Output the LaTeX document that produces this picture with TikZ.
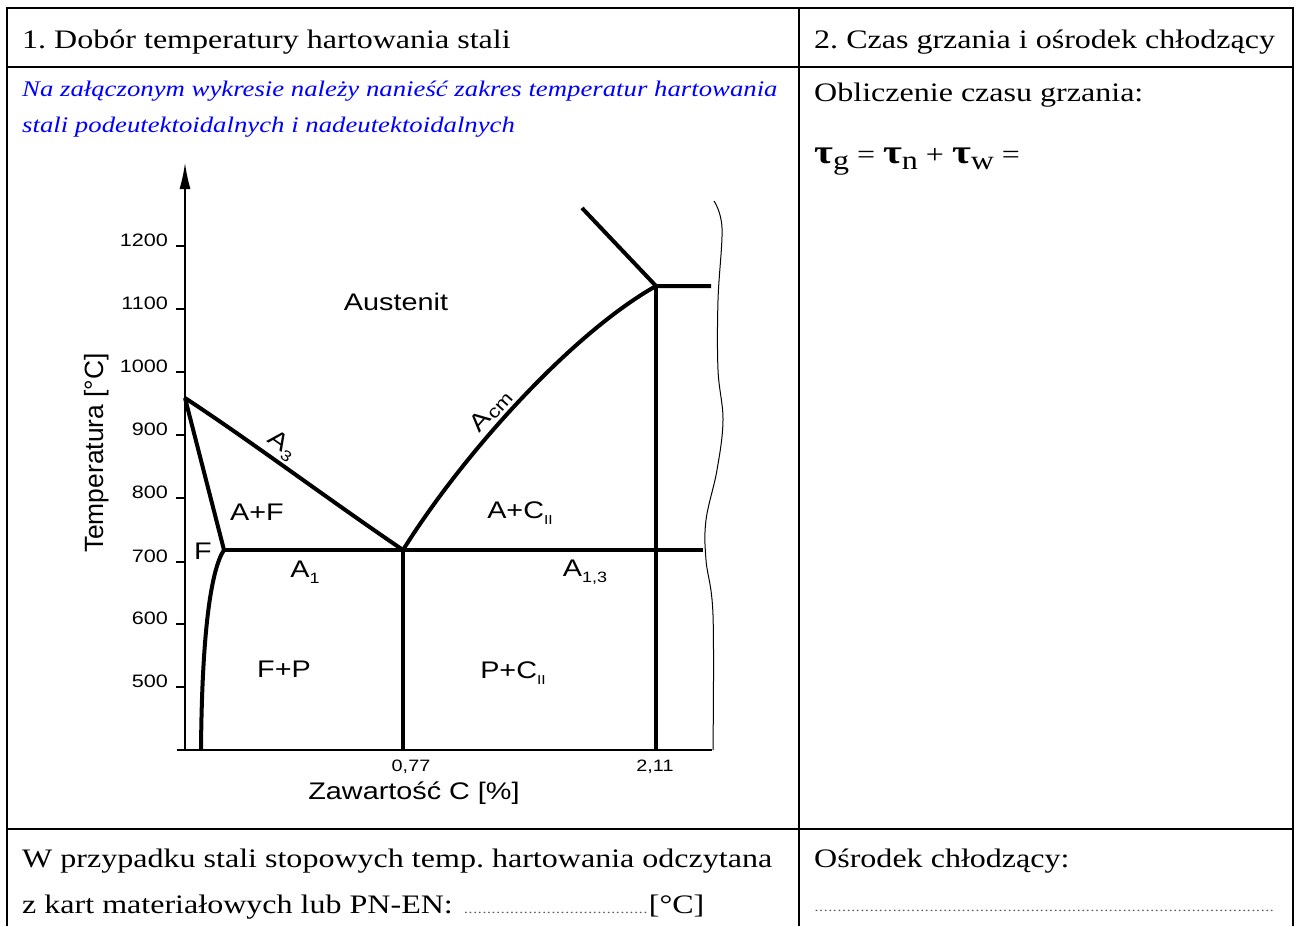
\documentclass[tikz,border=0pt]{standalone}
\usepackage{fontspec}
\setmainfont{Liberation Serif}[FakeStretch=1.2]
\newfontfamily\sansS{Liberation Sans}[FakeStretch=1.2]
\newfontfamily\sansN{Liberation Sans}
\usetikzlibrary{arrows.meta}
\frenchspacing
\newcommand\dotleader[1]{{\color{black!65}\fontsize{13}{13}\selectfont\leaders\hbox to 4.6pt{\hss.\hss}\hskip #1\relax}}
\newcommand\subII{\raisebox{-0.22em}{\fontsize{13}{13}\selectfont II}}
\newcommand\subsm[1]{\raisebox{-0.25em}{\fontsize{15}{15}\selectfont #1}}
\newcommand\tauB{{\fontsize{34}{34}\selectfont\bfseries τ}}
\newcommand\tsub[1]{\raisebox{-6pt}{#1}}
\begin{document}
\begin{tikzpicture}[x=1pt,y=-1pt,
  frame/.style={line width=2pt},
  phase/.style={line width=4pt, line join=round},
  axisline/.style={line width=1.5pt},
  tickmark/.style={line width=1.2pt},
  wavy/.style={line width=1pt},
  hdr/.style={anchor=base west, inner sep=0pt, font=\fontsize{26.7}{32}\selectfont},
  note/.style={anchor=base west, inner sep=0pt, text=blue, font=\itshape\fontsize{22.3}{27}\selectfont},
  lbl/.style={inner sep=0pt, font=\sansS\fontsize{24}{24}\selectfont},
  num/.style={inner sep=0pt, anchor=base east, font=\sansS\fontsize{18}{18}\selectfont},
  xnum/.style={inner sep=0pt, font=\sansS\fontsize{16.5}{16}\selectfont}
]
\useasboundingbox (0,0) rectangle (1300,926);
% table frame
\draw[frame] (7,926) -- (7,8) -- (1293,8) -- (1293,926);
\draw[frame] (7,67) -- (1293,67);
\draw[frame] (7,829) -- (1293,829);
\draw[frame] (799,8) -- (799,926);
% texts
\node[hdr] (h1) at (22,48) {1. Dobór temperatury hartowania stali};
\node[hdr] (h2) at (814,48) {2. Czas grzania i ośrodek chłodzący};
\node[note] (n1) at (22,96) {Na załączonym wykresie należy nanieść zakres temperatur hartowania};
\node[note] (n2) at (22,132) {stali podeutektoidalnych i nadeutektoidalnych};
\node[hdr] (ob) at (814,101) {Obliczenie czasu grzania:};
\node[hdr] (tau) at (814,163) {\tauB\tsub{g} = \tauB\tsub{n} + \tauB\tsub{w} =};
\node[hdr] (w1) at (22,867) {W przypadku stali stopowych temp. hartowania odczytana};
\node[hdr] (w2) at (22,913) {z kart materiałowych lub PN-EN: \dotleader{188pt}[°C]};
\node[hdr] (os) at (814,867) {Ośrodek chłodzący:};
\node[hdr] (dl) at (814,911) {\dotleader{462pt}};
% axes
\coordinate (O) at (185,750);
\coordinate (Ytop) at (185,163);
\coordinate (Xl) at (177,750);
\coordinate (Xr) at (712,750);
\draw[axisline] (Xl) -- (Xr);
\draw[axisline, -{Latex[length=26pt,width=11pt]}] (O) -- (Ytop);
\foreach \t/\y in {1200/246,1100/309,1000/372,900/435,800/498,700/562,600/624,500/687} {
  \coordinate (t\t) at (185,\y);
  \draw[tickmark] (t\t) -- ++(-9,0);
  \node[num] (l\t) at (168,\y) {\t};
}
% phase lines
\coordinate (G) at (185,398);
\coordinate (P) at (224,550);
\coordinate (S) at (403,550);
\coordinate (E) at (656,286);
\coordinate (K) at (703,550);
\coordinate (Ec) at (711,286);
\coordinate (L) at (582,208);
\coordinate (Sb) at (403,750);
\coordinate (Eb) at (656,750);
\coordinate (Qb) at (201,750);
\draw[phase] (G) -- (P) .. controls (212,568) and (202,625) .. (Qb);
\draw[phase] (G) .. controls (252,442) and (325,497) .. (S)
  node[lbl, pos=0.42, sloped, above, outer sep=4pt] (a3) {A\kern1pt\subsm{3}};
\draw[phase] (P) -- (K);
\draw[phase] (S) -- (Sb);
\draw[phase] (S) .. controls (463,454) and (571,334) .. (E)
  node[lbl, pos=0.43, sloped, above, outer sep=5pt] (acm) {A\kern1pt\raisebox{-0.12em}{\fontsize{18}{18}\selectfont cm}};
\draw[phase] (L) -- (E) -- (Ec);
\draw[phase] (E) -- (Eb);
% break line
\draw[wavy] plot[smooth, tension=0.6] coordinates {(714,201) (722,228) (718,300) (718,370) (723,420) (717,470) (706,520) (706,560) (713,615) (713,750)};
% labels
\node[lbl] (aus) at (396,302) {Austenit};
\node[lbl] (af) at (257,512) {A+F};
\node[lbl] (f) at (203,551) {F};
\node[lbl] (a1) at (305,572) {A\subsm{1}};
\node[lbl] (ac) at (520,513) {A+C\subII};
\node[lbl] (a13) at (585,572) {A\subsm{1,3}};
\node[lbl] (fp) at (284,669) {F+P};
\node[lbl] (pc) at (513,673) {P+C\subII};
\node[xnum] (x077) at (411,767) {0,77};
\node[xnum] (x211) at (655,767) {2,11};
\node[lbl] (xl) at (414,793) {Zawartość C [\%]};
\node[inner sep=0pt, rotate=90, font=\sansN\fontsize{26.4}{26}\selectfont] (yl) at (97,453) {Temperatura [°C]};
\end{tikzpicture}
\end{document}
